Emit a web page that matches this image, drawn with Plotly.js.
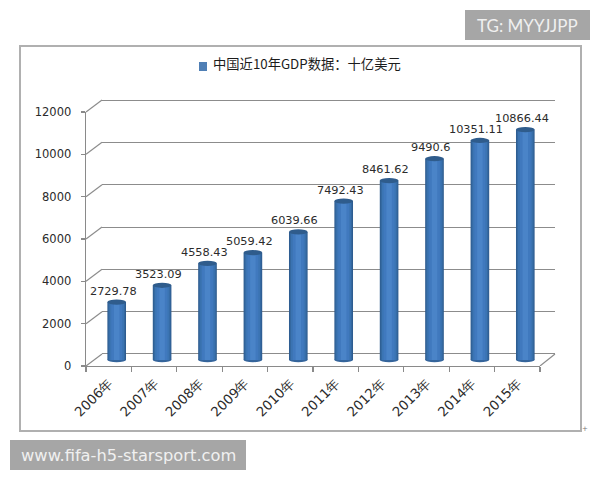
<!DOCTYPE html>
<html><head><meta charset="utf-8">
<script src="https://cdn.plot.ly/plotly-3.0.1.min.js"></script>
<style>html,body{margin:0;padding:0;background:#fff}#c{width:600px;height:480px}</style>
</head><body><div id="c"></div>
<script>
const categories=['2006年','2007年','2008年','2009年','2010年','2011年','2012年','2013年','2014年','2015年'];
const gdpValues=[2729.78,3523.09,4558.43,5059.42,6039.66,7492.43,8461.62,9490.6,10351.11,10866.44];
const yTicks=[0,2000,4000,6000,8000,10000,12000];
const titleText='中国近10年GDP数据：十亿美元';
const topMark='TG: MYYJJPP';
const bottomMark='www.fifa-h5-starsport.com';

const W=600,H=480;
const px=v=>v/W, py=v=>1-v/H;
const gridCol='#8c8c8c', axisCol='#8a8a8a', textCol='#2b2b2b';
const numFont='"DejaVu Sans", sans-serif';
const yRange=[0,12000];
const layers=[[0.41,'#2d5a8e'],[0.375,'#34689f'],[0.32,'#3b74b3'],[0.24,'#4079be'],[0.12,'#4a84c8']];

const traces=layers.map(([w,c])=>({type:'bar',x:categories,y:gdpValues,width:w,xaxis:'x2',yaxis:'y2',
  marker:{color:c,line:{width:0}},showlegend:false,hoverinfo:'x+y'}));
traces.unshift({type:'scatter',mode:'none',x:categories,y:gdpValues,xaxis:'x',yaxis:'y',showlegend:false,hoverinfo:'skip'});
traces.push({type:'scatter',mode:'none',x:categories,y:gdpValues,xaxis:'x3',yaxis:'y3',showlegend:false,hoverinfo:'skip'});

const shapes=[];
shapes.push({type:'rect',xref:'paper',yref:'paper',x0:px(20),x1:px(581),y0:py(431),y1:py(46),line:{color:'#b0b0b0',width:2},layer:'below'});
shapes.push({type:'rect',xref:'paper',yref:'paper',x0:px(465),x1:px(590),y0:py(40),y1:py(10),fillcolor:'#a6a6a6',line:{width:0}});
shapes.push({type:'rect',xref:'paper',yref:'paper',x0:px(10),x1:px(246),y0:py(470),y1:py(440),fillcolor:'#a6a6a6',line:{width:0}});
shapes.push({type:'rect',xref:'paper',yref:'paper',x0:px(199),x1:px(207),y0:py(71),y1:py(62),fillcolor:'#4f7fb5',line:{width:0}});
// depth lines on the left wall, on a hidden scale that leaves room above the top tick
yTicks.forEach(t=>shapes.push({type:'line',xref:'paper',yref:'y4',xsizemode:'pixel',ysizemode:'pixel',
  xanchor:px(86),yanchor:t,x0:0,x1:16,y0:0,y1:12,line:{color:gridCol,width:1.2}}));
shapes.push({type:'line',xref:'paper',yref:'y4',xsizemode:'pixel',ysizemode:'pixel',
  xanchor:px(540),yanchor:0,x0:0,x1:15,y0:0,y1:12,line:{color:gridCol,width:1.2}});
categories.forEach((c,i)=>{
  shapes.push({type:'circle',xref:'x2',yref:'y2',xsizemode:'pixel',ysizemode:'pixel',xanchor:i,yanchor:0,
    x0:-9.3,x1:9.3,y0:-2.2,y1:2.2,fillcolor:'#35659c',line:{width:0},layer:'below'});
  shapes.push({type:'circle',xref:'x2',yref:'y2',xsizemode:'pixel',ysizemode:'pixel',xanchor:i,yanchor:gdpValues[i],
    x0:-9.3,x1:9.3,y0:-2.6,y1:2.6,fillcolor:'#2f5c8c',line:{width:0}});
});

const annotations=categories.map((c,i)=>({xref:'x2',yref:'y2',x:c,y:gdpValues[i],text:String(gdpValues[i]),
  showarrow:false,xanchor:'center',yanchor:'middle',xshift:-3.5,yshift:11,font:{family:numFont,size:11.3,color:textCol}}));
annotations.push({xref:'paper',yref:'paper',x:px(527),y:py(25),text:topMark,showarrow:false,xanchor:'center',yanchor:'middle',
  font:{family:'Lato, sans-serif',size:17,color:'#f0f0f0'}});
annotations.push({xref:'paper',yref:'paper',x:px(128),y:py(455),text:bottomMark,showarrow:false,xanchor:'center',yanchor:'middle',
  font:{family:'"DejaVu Sans", sans-serif',size:16.3,color:'#f0f0f0'}});
annotations.push({xref:'paper',yref:'paper',x:px(585),y:py(429),text:'+',showarrow:false,xanchor:'center',yanchor:'middle',
  font:{family:numFont,size:7,color:'#777'}});

const layout={
  width:W,height:H,margin:{l:0,r:0,t:0,b:0},paper_bgcolor:'#fff',plot_bgcolor:'rgba(0,0,0,0)',
  showlegend:false,barmode:'overlay',
  title:{text:titleText,x:px(213),xref:'paper',xanchor:'left',y:py(64),yref:'paper',yanchor:'middle',
    font:{family:'"Noto Sans CJK SC", sans-serif',size:13.3,color:'#1c1c1c'}},
  // back wall: scale runs a little past both ends so that the 0 and 12000 lines are drawn
  xaxis:{domain:[px(102),px(555)],type:'category',showticklabels:false,ticks:'',showgrid:false,zeroline:false,showline:false,anchor:'y',fixedrange:true},
  yaxis:{domain:[py(358.2),py(95.8)],range:[-200,12200],tickvals:yTicks,showticklabels:false,ticks:'',showgrid:true,gridcolor:gridCol,gridwidth:1,
    zeroline:false,showline:false,anchor:'x',fixedrange:true},
  // bars, halfway through the depth
  xaxis2:{domain:[px(94),px(548)],type:'category',categoryorder:'array',categoryarray:categories,range:[-0.5,9.5],visible:false,anchor:'y2',fixedrange:true},
  yaxis2:{domain:[py(364.24),py(105.5)],range:[-200,12000],visible:false,anchor:'x2',fixedrange:true},
  // front axes
  xaxis3:{domain:[px(86),px(540)],type:'category',categoryorder:'array',categoryarray:categories,range:[-0.5,9.5],tickson:'boundaries',
    tickangle:-45,ticks:'outside',ticklen:5,tickwidth:1.3,tickcolor:axisCol,showline:true,linecolor:axisCol,linewidth:1.4,showgrid:false,zeroline:false,
    ticklabelstandoff:3,tickfont:{family:numFont,size:13.3,color:textCol},anchor:'y3',fixedrange:true},
  yaxis3:{domain:[py(366),py(112)],range:yRange,tickvals:yTicks,ticktext:yTicks.map(String),ticks:'outside',ticklen:4,tickwidth:1.3,tickcolor:axisCol,
    showline:true,linecolor:axisCol,linewidth:1.4,showgrid:false,zeroline:false,ticklabelstandoff:7,
    tickfont:{family:numFont,size:11.5,color:textCol},anchor:'x3',fixedrange:true},
  // hidden scale for the depth lines, same pixels per unit as the front axis
  xaxis4:{domain:[px(86),px(560)],range:[0,1],visible:false,anchor:'y4',fixedrange:true},
  yaxis4:{domain:[py(366),py(96)],range:[0,12756],visible:false,anchor:'x4',fixedrange:true},
  shapes,annotations
};
Plotly.newPlot('c',traces,layout,{displayModeBar:false,staticPlot:true});
</script></body></html>
